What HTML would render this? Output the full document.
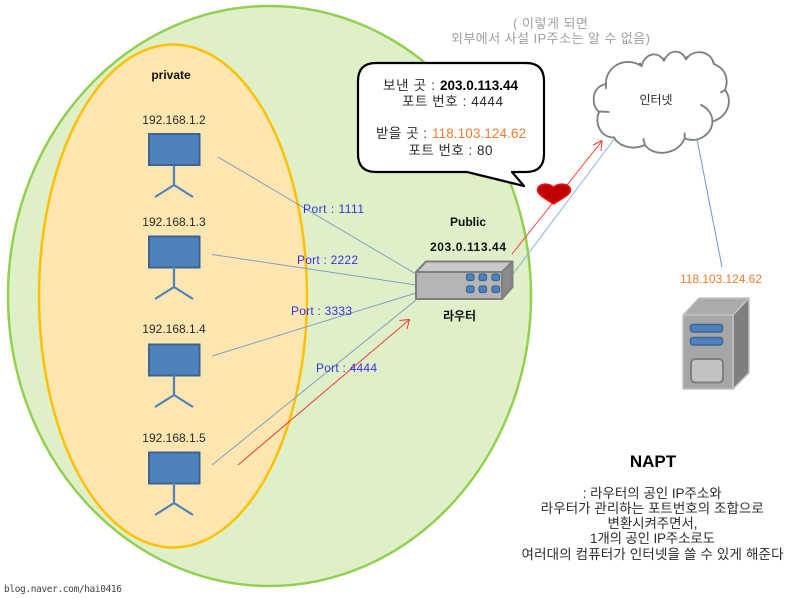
<!DOCTYPE html>
<html>
<head>
<meta charset="utf-8">
<style>
html,body{margin:0;padding:0;background:#fff;width:800px;height:599px;overflow:hidden}
svg{display:block}
text{font-family:"Liberation Sans","Noto Sans CJK KR",sans-serif;font-size:12px;fill:#2b2b2b;text-anchor:middle}
.b{font-weight:bold;fill:#111}
.p{fill:#3a30e8;text-anchor:start}
.c{font-size:13.500px}
.s{text-anchor:start}
.d{font-size:13.500px}
.g{font-size:13px;fill:#a0a0a0}
</style>
</head>
<body>
<svg width="800" height="599" viewBox="0 0 800 599" xmlns="http://www.w3.org/2000/svg">
<ellipse cx="269.500" cy="296" rx="261.500" ry="290" fill="#dff0c9" stroke="#92d050" stroke-width="2.500"/>
<ellipse cx="173" cy="296" rx="134" ry="251.500" fill="#fee6b0" stroke="#ffc000" stroke-width="2.500"/>

<g fill="none" stroke="#7f9fc0" stroke-width="1">
<line x1="218" y1="157" x2="416" y2="274"/>
<line x1="212" y1="254.500" x2="416" y2="285"/>
<line x1="212" y1="356" x2="416" y2="293"/>
<line x1="212" y1="465" x2="416" y2="300"/>
<line x1="513" y1="274" x2="615" y2="138" stroke="#8db0dc"/>
<line x1="697" y1="139" x2="722" y2="267" stroke="#6f97c8"/>
</g>
<g fill="none" stroke="#f03a3a" stroke-width="1">
<path d="M238 465L409 320M399.500 320.500L409.500 319.500L407 329"/>
<path d="M512 254L602 141M593 145L602 140.500L601 151"/>
</g>

<g fill="#4f81bd" stroke="#3b6494" stroke-width="2">
<rect x="149" y="134" width="50.500" height="31"/>
<path d="M174 165V185M155 197L174 185L193 197" fill="none" stroke="#4f81bd" stroke-width="2.200"/>
<rect x="149" y="236.500" width="50.500" height="31"/>
<path d="M174 267V287M155 299L174 287L193 299" fill="none" stroke="#4f81bd" stroke-width="2.200"/>
<rect x="149" y="344.500" width="50.500" height="31"/>
<path d="M174 375V395M155 407L174 395L193 407" fill="none" stroke="#4f81bd" stroke-width="2.200"/>
<rect x="149" y="452.500" width="50.500" height="31"/>
<path d="M174 483V503M155 515L174 503L193 515" fill="none" stroke="#4f81bd" stroke-width="2.200"/>
</g>

<g stroke="#7f7f7f" stroke-width="2" stroke-linejoin="round">
<path d="M416 272L426 261.500H512.500L502 272Z" fill="#c9c9c9"/>
<path d="M502 272L512.500 261.500V287L502 299Z" fill="#8a8a8a"/>
<rect x="416" y="272" width="86" height="27" fill="#b5b5b5"/>
</g>
<g fill="#4f81bd" stroke="#3b6494" stroke-width="1.200">
<rect x="466.500" y="274" width="7.500" height="6.500" rx="2"/>
<rect x="479" y="274" width="7.500" height="6.500" rx="2"/>
<rect x="492" y="274" width="7.500" height="6.500" rx="2"/>
<rect x="466.500" y="286" width="7.500" height="6.500" rx="2"/>
<rect x="479" y="286" width="7.500" height="6.500" rx="2"/>
<rect x="492" y="286" width="7.500" height="6.500" rx="2"/>
</g>

<path d="M376 63H526Q544 63 544 81V154Q544 172 526 172H512L524 186L467 172H376Q358 172 358 154V81Q358 63 376 63Z" fill="#fff" stroke="#000" stroke-width="2.200" stroke-linejoin="round"/>

<path d="M553.500 204C546 199 537.500 195 537.500 190C537.500 184 547 182 553.500 187C560 182 570.500 184 570.500 190C570.500 195 561 199 553.500 204Z" fill="#c00000" stroke="#f01010" stroke-width="1.500"/>

<g transform="translate(590 40) scale(.33333)" stroke="#7f7f7f" stroke-width="5.500" stroke-linecap="round" stroke-linejoin="round">
<path d="M48 132C45 85 100 45 155 78C165 38 205 32 222 62C240 25 275 28 288 58C310 25 362 30 372 72C405 85 418 115 405 150C428 178 418 228 367 245C368 282 322 312 284 295C265 345 190 352 165 315C125 332 85 318 72 292C35 295 10 250 28 215C5 205 0 140 48 132Z" fill="#fff"/>
<path d="M333 195C355 205 368 225 367 245M284 280V295M160 297L165 315M28 215C35 214 45 215 56 216M48 132V145M155 78L150 70M222 62V55M288 58L292 50M372 72L368 62M405 150L393 157" fill="none"/>
</g>

<g stroke-linejoin="round">
<path d="M683 315L699 298H749L733 315Z" fill="#ababab" stroke="#c4c4c4" stroke-width="1.500"/>
<path d="M733 315L749 298V373L733 389Z" fill="#7f7f7f" stroke="#c4c4c4" stroke-width="1.500"/>
<rect x="683" y="315" width="50" height="74" fill="#a6a6a6" stroke="#c4c4c4" stroke-width="1.500"/>
<rect x="690.500" y="324.500" width="32" height="7.500" rx="2.500" fill="#4f81bd" stroke="#3b6494" stroke-width="1.500"/>
<rect x="690.500" y="337.500" width="32" height="7.500" rx="2.500" fill="#4f81bd" stroke="#3b6494" stroke-width="1.500"/>
<rect x="691" y="359" width="32" height="23.500" rx="4" fill="#c2c2c2" stroke="#7f7f7f" stroke-width="2"/>
</g>

<text x="550.500" y="28" class="g" textLength="75">( 이렇게 되면</text>
<text x="550.500" y="43" class="g" textLength="199">외부에서 사설 IP주소는 알 수 없음)</text>
<text x="171" y="79" class="b">private</text>
<text x="174" y="124">192.168.1.2</text>
<text x="174" y="226">192.168.1.3</text>
<text x="174" y="333">192.168.1.4</text>
<text x="174" y="442">192.168.1.5</text>
<text x="468" y="226" class="b">Public</text>
<text x="468" y="251" class="b" textLength="76">203.0.113.44</text>
<text x="459.500" y="320" class="b" textLength="33">라우터</text>
<text x="303" y="213" class="p" textLength="61">Port : 1111</text>
<text x="297" y="264" class="p" textLength="61">Port : 2222</text>
<text x="291" y="315" class="p" textLength="61">Port : 3333</text>
<text x="316" y="372" class="p" textLength="61">Port : 4444</text>
<text x="383" y="90" class="c s" textLength="52">보낸 곳 :</text>
<text x="440" y="90" class="c s" style="font-weight:bold;fill:#000" textLength="78">203.0.113.44</text>
<text x="452.500" y="106" class="c" textLength="101">포트 번호 : 4444</text>
<text x="376" y="138" class="c s" textLength="51">받을 곳 :</text>
<text x="432" y="138" class="c s" style="fill:#ed7d31" textLength="94">118.103.124.62</text>
<text x="450.500" y="155" class="c" textLength="84">포트 번호 : 80</text>
<text x="656" y="104">인터넷</text>
<text x="721" y="283" style="fill:#ed7d31" textLength="82">118.103.124.62</text>
<text x="653" y="467" class="b" style="font-size:17px;fill:#000">NAPT</text>
<text x="652.200" y="498" class="d" textLength="139">: 라우터의 공인 IP주소와</text>
<text x="652.300" y="513" class="d" textLength="223">라우터가 관리하는 포트번호의 조합으로</text>
<text x="652.500" y="528" class="d" textLength="90">변환시켜주면서,</text>
<text x="652.500" y="543" class="d" textLength="125">1개의 공인 IP주소로도</text>
<text x="652.500" y="559" class="d" textLength="262">여러대의 컴퓨터가 인터넷을 쓸 수 있게 해준다</text>
<text x="4" y="592" style="font-family:'DejaVu Sans Mono','Liberation Mono',monospace;font-size:9.500px;text-anchor:start;fill:#444" textLength="118">blog.naver.com/hai0416</text>
</svg>
</body>
</html>
